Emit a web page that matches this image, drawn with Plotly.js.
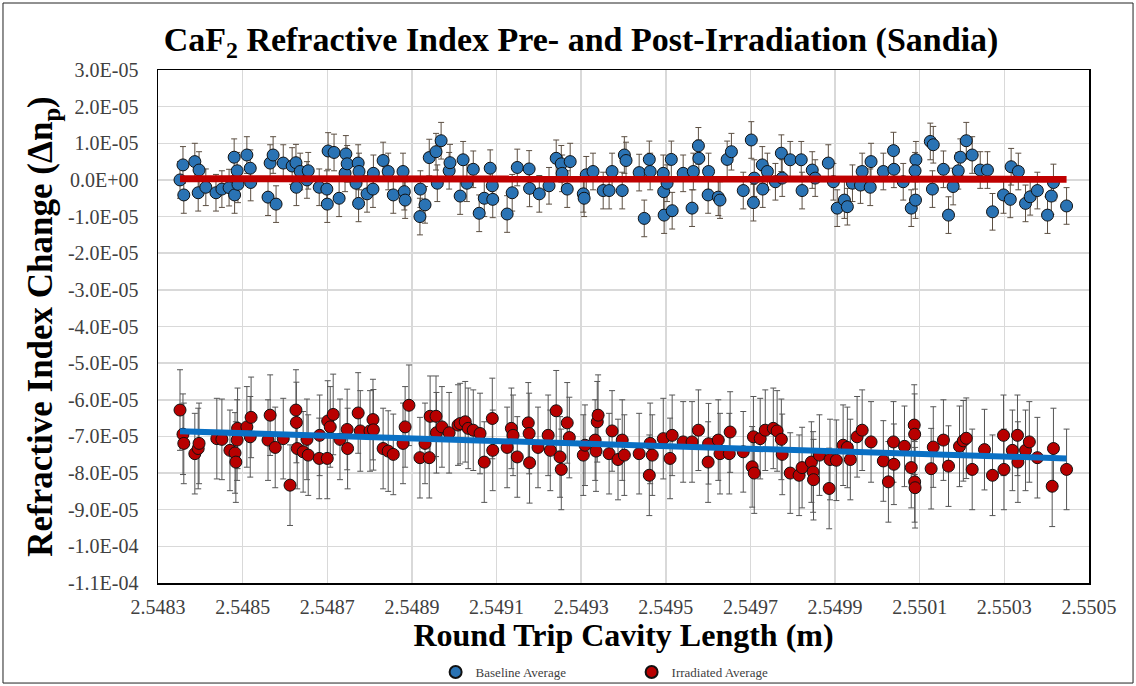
<!DOCTYPE html>
<html>
<head>
<meta charset="utf-8">
<script src="https://cdn.plot.ly/plotly-3.0.1.min.js"></script>
<style>html,body{margin:0;padding:0;background:#fff;}#chart{width:1136px;height:686px;}</style>
</head>
<body>
<div id="chart"></div>
<script>
// Baseline Average (pre-irradiation)
const baselineX = [
2.548352,2.548359,2.548361,2.548387,2.548395,2.548397,2.548413,2.548437,2.548451,2.548468,
2.548480,2.548481,2.548487,2.548489,2.548510,2.548518,2.548519,2.548560,2.548565,2.548572,
2.548579,2.548596,2.548617,2.548626,2.548627,2.548636,2.548652,2.548655,2.548681,2.548700,
2.548699,2.548702,2.548716,2.548728,2.548742,2.548744,2.548747,2.548768,2.548773,2.548774,
2.548775,2.548794,2.548808,2.548809,2.548832,2.548844,2.548856,2.548879,2.548882,2.548884,
2.548919,2.548920,2.548931,2.548941,2.548957,2.548960,2.548969,2.548988,2.548990,2.549014,
2.549021,2.549030,2.549045,2.549059,2.549071,2.549085,2.549090,2.549091,2.549125,2.549137,
2.549149,2.549177,2.549178,2.549201,2.549224,2.549241,2.549253,2.549255,2.549267,2.549274,
2.549305,2.549307,2.549312,2.549328,2.549352,2.549366,2.549373,2.549397,2.549402,2.549406,
2.549437,2.549449,2.549461,2.549463,2.549494,2.549495,2.549496,2.549513,2.549515,2.549503,
2.549541,2.549562,2.549565,2.549577,2.549578,2.549600,2.549601,2.549624,2.549628,2.549645,
2.549655,2.549683,2.549702,2.549707,2.549709,2.549728,2.549729,2.549740,2.549759,2.549773,
2.549775,2.549794,2.549820,2.549822,2.549846,2.549853,2.549884,2.549896,2.549905,2.549922,
2.549929,2.549941,2.549960,2.549964,2.549983,2.549985,2.550014,2.550038,2.550039,2.550061,
2.550080,2.550090,2.550091,2.550089,2.550125,2.550132,2.550130,2.550156,2.550168,2.550179,
2.550191,2.550196,2.550210,2.550224,2.550243,2.550260,2.550272,2.550298,2.550314,2.550316,
2.550333,2.550350,2.550361,2.550378,2.550402,2.550411,2.550416,2.550447
];
const baselineY = [
0.0e-6,4.1e-6,-4.1e-6,5.0e-6,-3.5e-6,2.7e-6,-2.0e-6,-3.5e-6,-2.5e-6,-2.1e-6,
6.2e-6,-4.1e-6,2.5e-6,-1.2e-6,6.8e-6,3.2e-6,-0.7e-6,-4.7e-6,4.6e-6,6.8e-6,
-6.6e-6,4.6e-6,3.8e-6,4.7e-6,-2.0e-6,2.3e-6,0.0e-6,2.5e-6,-2.0e-6,-6.6e-6,
-2.5e-6,7.9e-6,7.5e-6,-5.0e-6,1.8e-6,7.1e-6,4.4e-6,-0.9e-6,4.6e-6,-6.4e-6,
2.3e-6,-3.8e-6,-2.5e-6,1.8e-6,5.3e-6,2.3e-6,-4.1e-6,2.3e-6,-3.2e-6,-5.5e-6,
-10.0e-6,-2.5e-6,-6.8e-6,6.1e-6,7.7e-6,-0.9e-6,10.7e-6,2.5e-6,4.7e-6,-4.4e-6,
5.5e-6,-0.9e-6,2.9e-6,-9.1e-6,-5.0e-6,3.2e-6,-1.6e-6,-5.3e-6,-9.3e-6,-3.5e-6,
3.4e-6,3.0e-6,-2.3e-6,-3.8e-6,-1.6e-6,5.9e-6,4.4e-6,1.8e-6,-2.5e-6,5.0e-6,
-3.8e-6,-5.0e-6,1.4e-6,2.3e-6,-2.9e-6,-2.9e-6,2.3e-6,-2.9e-6,6.8e-6,5.3e-6,
2.0e-6,-10.5e-6,5.6e-6,2.3e-6,1.8e-6,-3.2e-6,-9.6e-6,5.6e-6,-8.4e-6,-0.9e-6,
1.8e-6,-7.7e-6,2.3e-6,9.3e-6,5.9e-6,-4.1e-6,2.3e-6,-4.7e-6,-5.5e-6,5.6e-6,
7.7e-6,-2.9e-6,10.9e-6,-6.2e-6,0.5e-6,4.1e-6,-2.5e-6,2.3e-6,-0.5e-6,7.3e-6,
0.5e-6,5.5e-6,5.5e-6,-2.9e-6,2.7e-6,0.5e-6,4.6e-6,-0.5e-6,-7.7e-6,-5.5e-6,
-7.3e-6,-0.9e-6,-1.4e-6,2.3e-6,-2.0e-6,5.0e-6,2.3e-6,8.0e-6,2.9e-6,-0.5e-6,
-7.7e-6,-5.5e-6,5.5e-6,2.5e-6,10.5e-6,9.6e-6,-2.5e-6,2.9e-6,-9.6e-6,-1.8e-6,
2.5e-6,6.2e-6,10.7e-6,6.8e-6,2.7e-6,2.7e-6,-8.7e-6,-4.1e-6,-5.3e-6,3.6e-6,
2.3e-6,-6.4e-6,-4.6e-6,-2.9e-6,-9.6e-6,-4.4e-6,-0.7e-6,-7.1e-6
];
const baselineErr = 5.0e-6;

// Irradiated Average (post-irradiation)
const irradX = [
2.548352,2.548359,2.548361,2.548387,2.548395,2.548397,2.548439,2.548451,2.548470,2.548482,
2.548484,2.548487,2.548488,2.548510,2.548518,2.548520,2.548560,2.548565,2.548577,2.548596,
2.548612,2.548626,2.548627,2.548629,2.548643,2.548652,2.548655,2.548681,2.548682,2.548700,
2.548701,2.548707,2.548714,2.548730,2.548747,2.548748,2.548773,2.548778,2.548801,2.548808,
2.548809,2.548832,2.548844,2.548856,2.548879,2.548884,2.548893,2.548919,2.548931,2.548941,
2.548943,2.548957,2.548958,2.548971,2.548988,2.549009,2.549014,2.549026,2.549033,2.549045,
2.549061,2.549071,2.549090,2.549091,2.549125,2.549135,2.549139,2.549149,2.549175,2.549177,
2.549178,2.549198,2.549222,2.549227,2.549241,2.549250,2.549253,2.549267,2.549272,2.549305,
2.549309,2.549333,2.549338,2.549340,2.549335,2.549366,2.549373,2.549387,2.549397,2.549402,
2.549437,2.549461,2.549463,2.549468,2.549494,2.549510,2.549515,2.549541,2.549562,2.549577,
2.549600,2.549601,2.549624,2.549628,2.549650,2.549652,2.549683,2.549704,2.549709,2.549707,
2.549723,2.549735,2.549754,2.549763,2.549773,2.549775,2.549794,2.549815,2.549822,2.549844,
2.549848,2.549849,2.549863,2.549886,2.549888,2.549903,2.549919,2.549929,2.549936,2.549952,
2.549964,2.549985,2.550014,2.550026,2.550038,2.550039,2.550064,2.550080,2.550087,2.550088,
2.550088,2.550089,2.550127,2.550132,2.550156,2.550168,2.550194,2.550203,2.550210,2.550224,
2.550253,2.550272,2.550298,2.550299,2.550319,2.550331,2.550332,2.550350,2.550359,2.550378,
2.550413,2.550416,2.550447
];
const irradY = [
-62.8e-6,-69.4e-6,-71.9e-6,-74.7e-6,-73.3e-6,-71.9e-6,-70.6e-6,-70.8e-6,-73.8e-6,-74.5e-6,
-77.0e-6,-71.0e-6,-67.8e-6,-67.4e-6,-70.1e-6,-64.8e-6,-71.0e-6,-64.2e-6,-73.0e-6,-70.6e-6,
-83.3e-6,-62.8e-6,-66.2e-6,-73.3e-6,-74.2e-6,-70.8e-6,-75.1e-6,-76.0e-6,-69.7e-6,-76.0e-6,
-65.8e-6,-67.4e-6,-64.0e-6,-70.8e-6,-68.1e-6,-73.3e-6,-63.6e-6,-68.5e-6,-68.5e-6,-65.4e-6,
-68.2e-6,-73.3e-6,-74.0e-6,-74.9e-6,-71.9e-6,-67.4e-6,-61.5e-6,-75.8e-6,-71.9e-6,-75.8e-6,
-64.5e-6,-64.5e-6,-69.0e-6,-67.4e-6,-69.0e-6,-66.9e-6,-66.5e-6,-66.0e-6,-67.8e-6,-68.3e-6,
-69.2e-6,-77.0e-6,-65.1e-6,-73.8e-6,-73.0e-6,-67.8e-6,-69.7e-6,-75.6e-6,-66.3e-6,-69.2e-6,
-77.2e-6,-73.0e-6,-69.7e-6,-73.8e-6,-63.0e-6,-75.6e-6,-79.0e-6,-66.3e-6,-70.3e-6,-75.1e-6,
-72.4e-6,-71.0e-6,-66.0e-6,-64.2e-6,-74.0e-6,-74.7e-6,-68.5e-6,-76.3e-6,-71.0e-6,-75.1e-6,
-74.7e-6,-80.6e-6,-71.9e-6,-75.1e-6,-70.6e-6,-76.0e-6,-69.7e-6,-71.5e-6,-71.5e-6,-68.3e-6,
-77.0e-6,-72.0e-6,-71.0e-6,-74.7e-6,-74.7e-6,-68.8e-6,-74.2e-6,-78.3e-6,-80.0e-6,-70.1e-6,
-70.6e-6,-68.3e-6,-67.8e-6,-68.5e-6,-70.8e-6,-74.9e-6,-80.0e-6,-80.6e-6,-78.5e-6,-77.0e-6,
-79.7e-6,-81.8e-6,-75.1e-6,-84.2e-6,-76.3e-6,-76.5e-6,-72.4e-6,-73.0e-6,-76.3e-6,-70.1e-6,
-68.3e-6,-71.5e-6,-76.7e-6,-82.4e-6,-71.5e-6,-77.6e-6,-72.7e-6,-78.5e-6,-66.9e-6,-69.4e-6,
-82.4e-6,-84.0e-6,-78.8e-6,-72.9e-6,-71.0e-6,-78.1e-6,-72.7e-6,-71.2e-6,-70.5e-6,-79.0e-6,
-73.6e-6,-80.6e-6,-69.7e-6,-79.0e-6,-73.8e-6,-69.7e-6,-77.0e-6,-73.8e-6,-71.5e-6,-75.8e-6,
-83.6e-6,-73.3e-6,-79.0e-6
];
const irradErr = 1.1e-5;

// Linear trendlines (end points)
const baselineTrendX = [2.548352, 2.550447];
const baselineTrendY = [0.3e-6, 0.2e-6];
const irradTrendX = [2.548352, 2.550447];
const irradTrendY = [-68.6e-6, -76.0e-6];

// Tick labels
const yTickVals = [3e-5,2e-5,1e-5,0,-1e-5,-2e-5,-3e-5,-4e-5,-5e-5,-6e-5,-7e-5,-8e-5,-9e-5,-1e-4,-1.1e-4];
const yTickText = ["3.0E-05","2.0E-05","1.0E-05","0.0E+00","-1.0E-05","-2.0E-05","-3.0E-05","-4.0E-05","-5.0E-05","-6.0E-05","-7.0E-05","-8.0E-05","-9.0E-05","-1.0E-04","-1.1E-04"];
const xTickVals = [2.5483,2.5485,2.5487,2.5489,2.5491,2.5493,2.5495,2.5497,2.5499,2.5501,2.5503,2.5505];
const xTickText = ["2.5483","2.5485","2.5487","2.5489","2.5491","2.5493","2.5495","2.5497","2.5499","2.5501","2.5503","2.5505"];

const SERIF = "Liberation Serif";

const traces = [
  {
    name: "Baseline Average", type: "scatter", mode: "markers",
    x: baselineX, y: baselineY,
    marker: {size: 12, color: "#2a73b4", line: {color: "#111", width: 1}},
    error_y: {type: "constant", value: baselineErr, color: "#5c4f42", thickness: 1, width: 3}
  },
  {
    name: "Irradiated Average", type: "scatter", mode: "markers",
    x: irradX, y: irradY,
    marker: {size: 12, color: "#b80000", line: {color: "#111", width: 1}},
    error_y: {type: "constant", value: irradErr, color: "#555", thickness: 1, width: 3}
  },
  {
    type: "scatter", mode: "lines", showlegend: false, hoverinfo: "skip",
    x: baselineTrendX, y: baselineTrendY,
    line: {color: "#c00000", width: 7}
  },
  {
    type: "scatter", mode: "lines", showlegend: false, hoverinfo: "skip",
    x: irradTrendX, y: irradTrendY,
    line: {color: "#0a70c4", width: 6}
  }
];

const layout = {
  width: 1136, height: 686,
  paper_bgcolor: "#fff", plot_bgcolor: "#fff",
  margin: {l: 158, r: 47, t: 70, b: 103, autoexpand: false},
  font: {family: SERIF, color: "#404040"},
  title: {
    text: "<b>CaF<sub>2</sub> Refractive Index Pre- and Post-Irradiation (Sandia)</b>",
    font: {family: SERIF, size: 34, color: "#000"},
    x: 0.4544, xanchor: "center", y: 0.943, yanchor: "middle", xref: "paper"
  },
  xaxis: {
    range: [2.5483, 2.5505], automargin: false,
    tickvals: xTickVals, ticktext: xTickText,
    tickfont: {family: SERIF, size: 20, color: "#404040"},
    showgrid: true, gridcolor: "#d9d9d9", gridwidth: 1.5,
    zeroline: false, showline: true, mirror: true, linecolor: "#000", linewidth: 1.5,
    ticks: "", ticklabelstandoff: 5,
    title: {text: "<b>Round Trip Cavity Length (m)</b>", font: {family: SERIF, size: 32, color: "#000"}, standoff: 7}
  },
  yaxis: {
    range: [-1.1e-4, 3e-5], automargin: false,
    tickvals: yTickVals, ticktext: yTickText,
    tickfont: {family: SERIF, size: 20, color: "#404040"},
    showgrid: true, gridcolor: "#d9d9d9", gridwidth: 1.5,
    zeroline: false, showline: true, mirror: true, linecolor: "#000", linewidth: 1.5,
    ticks: "", ticklabelstandoff: 14,
    title: {text: "<b>Refractive Index Change (Δn<sub>p</sub>)</b>", font: {family: SERIF, size: 35, color: "#000"}, standoff: 4}
  },
  showlegend: true,
  legend: {
    orientation: "h", xref: "container", yref: "container",
    x: 0.556, xanchor: "center", y: 0.0204, yanchor: "middle",
    font: {family: SERIF, size: 13, color: "#404040"},
    itemsizing: "constant", bgcolor: "rgba(0,0,0,0)", entrywidth: 151
  },
  shapes: [
    {type: "rect", xref: "paper", yref: "paper", x0: -0.1665, x1: 1.0473, y0: -0.195, y1: 1.1306,
     line: {color: "#222", width: 1}, fillcolor: "rgba(0,0,0,0)", layer: "below"}
  ]
};

Plotly.newPlot("chart", traces, layout, {displayModeBar: false, staticPlot: true});
</script>
</body>
</html>
